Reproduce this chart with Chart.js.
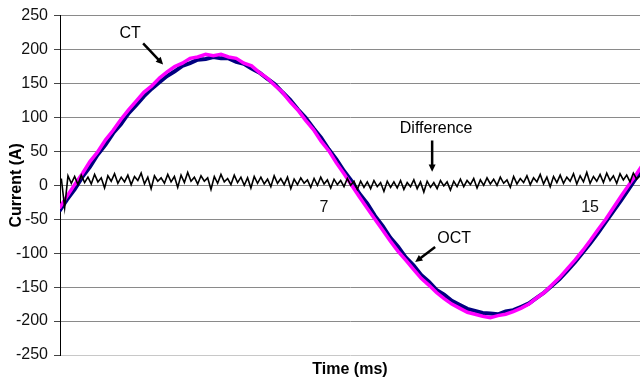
<!DOCTYPE html>
<html>
<head>
<meta charset="utf-8">
<script src="https://cdn.jsdelivr.net/npm/chart.js@4/dist/chart.umd.min.js"></script>
<style>
  html, body { margin: 0; padding: 0; background: #fff; }
  #wrap { width: 640px; height: 382px; }
</style>
</head>
<body>
<div id="wrap"><canvas id="chart" width="640" height="382"></canvas></div>
<script>
// sine traces, one sample every 5 degrees of a 60 Hz cycle (ms)
const sineTime = [-0.96, -0.73, -0.50, -0.27, -0.04, 0.19, 0.43, 0.66, 0.89, 1.12,
  1.35, 1.58, 1.81, 2.05, 2.28, 2.51, 2.74, 2.97, 3.20, 3.44,
  3.67, 3.90, 4.13, 4.36, 4.59, 4.82, 5.06, 5.29, 5.52, 5.75,
  5.98, 6.21, 6.44, 6.68, 6.91, 7.14, 7.37, 7.60, 7.83, 8.06,
  8.30, 8.53, 8.76, 8.99, 9.22, 9.45, 9.69, 9.92, 10.15, 10.38,
  10.61, 10.84, 11.07, 11.31, 11.54, 11.77, 12.00, 12.23, 12.46, 12.69,
  12.93, 13.16, 13.39, 13.62, 13.85, 14.08, 14.31, 14.55, 14.78, 15.01,
  15.24, 15.47, 15.70, 15.93, 16.17, 16.40, 16.63];

const ctCurrent = [-34, -16, 1, 17, 35, 49, 67, 81, 97, 111,
  124, 137, 146, 158, 167, 175, 180, 187, 189, 193,
  191, 193, 189, 187, 180, 176, 166, 158, 147, 137,
  123, 111, 96, 82, 65, 51, 33, 17, 0, -17,
  -34, -50, -66, -82, -97, -110, -124, -137, -147, -158,
  -167, -175, -181, -187, -190, -193, -195, -192, -190, -186,
  -181, -175, -166, -158, -147, -136, -123, -110, -96, -81,
  -65, -50, -33, -16, 1, 17, 34];

const octCurrent = [-38, -21, -6, 12, 27, 45, 60, 77, 90, 106,
  118, 131, 142, 152, 161, 168, 176, 180, 185, 186,
  189, 187, 187, 182, 179, 172, 166, 157, 149, 137,
  126, 112, 100, 84, 70, 53, 38, 21, 6, -12,
  -27, -45, -60, -77, -90, -106, -118, -132, -142, -154,
  -161, -170, -176, -182, -185, -188, -189, -190, -186, -184,
  -179, -174, -166, -158, -148, -138, -126, -113, -99, -85,
  -70, -54, -38, -22, -5, 12, 28];

// difference trace, one sample every 0.1 ms
const diffTime = [-0.9, -0.8, -0.7, -0.6, -0.5, -0.4, -0.3, -0.2, -0.1, 0,
  0.1, 0.2, 0.3, 0.4, 0.5, 0.6, 0.7, 0.8, 0.9, 1,
  1.1, 1.2, 1.3, 1.4, 1.5, 1.6, 1.7, 1.8, 1.9, 2,
  2.1, 2.2, 2.3, 2.4, 2.5, 2.6, 2.7, 2.8, 2.9, 3,
  3.1, 3.2, 3.3, 3.4, 3.5, 3.6, 3.7, 3.8, 3.9, 4,
  4.1, 4.2, 4.3, 4.4, 4.5, 4.6, 4.7, 4.8, 4.9, 5,
  5.1, 5.2, 5.3, 5.4, 5.5, 5.6, 5.7, 5.8, 5.9, 6,
  6.1, 6.2, 6.3, 6.4, 6.5, 6.6, 6.7, 6.8, 6.9, 7,
  7.1, 7.2, 7.3, 7.4, 7.5, 7.6, 7.7, 7.8, 7.9, 8,
  8.1, 8.2, 8.3, 8.4, 8.5, 8.6, 8.7, 8.8, 8.9, 9,
  9.1, 9.2, 9.3, 9.4, 9.5, 9.6, 9.7, 9.8, 9.9, 10,
  10.1, 10.2, 10.3, 10.4, 10.5, 10.6, 10.7, 10.8, 10.9, 11,
  11.1, 11.2, 11.3, 11.4, 11.5, 11.6, 11.7, 11.8, 11.9, 12,
  12.1, 12.2, 12.3, 12.4, 12.5, 12.6, 12.7, 12.8, 12.9, 13,
  13.1, 13.2, 13.3, 13.4, 13.5, 13.6, 13.7, 13.8, 13.9, 14,
  14.1, 14.2, 14.3, 14.4, 14.5, 14.6, 14.7, 14.8, 14.9, 15,
  15.1, 15.2, 15.3, 15.4, 15.5, 15.6, 15.7, 15.8, 15.9, 16,
  16.1, 16.2, 16.3, 16.4, 16.5];

const diffCurrent = [10, -33, 14, 3, 13, 1, 15, 4, 12, 2,
  16, 5, 11, -4, 14, 6, 17, 3, 12, 5,
  15, 1, 13, 7, 18, 2, 12, -5, 14, 6,
  11, 3, 16, 5, 13, -3, 15, 4, 19, 6,
  12, 2, 14, 6, 11, -6, 13, 3, 16, 5,
  10, 1, 15, 4, 12, 0, 11, -4, 13, 3,
  12, 2, 9, -2, 14, 3, 10, 1, 12, -5,
  9, 1, 11, 3, 8, -3, 10, 0, 12, 2,
  8, -4, 9, 1, 7, -2, 10, 0, 6, -6,
  6, -3, 5, -5, 7, -2, 4, -9, 6, -3,
  5, -4, 7, -6, 4, -2, 8, -5, 5, -10,
  6, -3, 4, -5, 7, -1, 5, -7, 6, -2,
  9, -2, 7, 1, 10, -4, 8, 0, 11, 2,
  9, 0, 12, 3, 8, -3, 13, 2, 10, 4,
  14, 1, 11, 5, 16, 2, 12, -2, 13, 4,
  15, 3, 12, 6, 17, 2, 14, 5, 19, 3,
  13, 6, 16, 4, 18, 7, 14, 3, 17, 8,
  15, 5, 18, 9, 14];

const xTickValues = [7, 15];
const xMin = -0.94, xMax = 16.5;
const yMin = -250, yMax = 250, yStep = 50;

const FONT = '"Liberation Sans", Arial, sans-serif';

// callouts, placed in data units
const notes = [
  { text: 'CT', at: [1.17, 223], from: [1.56, 209], to: [2.16, 178] },
  { text: 'Difference', at: [10.37, 84], from: [10.25, 66], to: [10.25, 20] },
  { text: 'OCT', at: [10.91, -78], from: [10.34, -91], to: [9.74, -113] }
];

const toPoints = (xs, ys) => ys.map((v, i) => ({ x: xs[i], y: v }));

function drawArrow(ctx, x1, y1, x2, y2) {
  const ang = Math.atan2(y2 - y1, x2 - x1);
  const head = 8;
  ctx.beginPath();
  ctx.moveTo(x1, y1);
  ctx.lineTo(x2 - Math.cos(ang) * head * 0.8, y2 - Math.sin(ang) * head * 0.8);
  ctx.lineWidth = 2.5;
  ctx.stroke();
  ctx.beginPath();
  ctx.moveTo(x2, y2);
  ctx.lineTo(x2 - head * Math.cos(ang - 0.45), y2 - head * Math.sin(ang - 0.45));
  ctx.lineTo(x2 - head * Math.cos(ang + 0.45), y2 - head * Math.sin(ang + 0.45));
  ctx.closePath();
  ctx.fill();
}

const notesPlugin = {
  id: 'notes',
  afterDatasetsDraw(chart) {
    const { ctx, chartArea, scales: { x, y } } = chart;
    ctx.save();
    ctx.fillStyle = '#000';
    ctx.strokeStyle = '#000';
    ctx.textAlign = 'center';
    ctx.textBaseline = 'middle';
    ctx.font = '16px ' + FONT;
    notes.forEach(n => {
      ctx.fillText(n.text, x.getPixelForValue(n.at[0]), y.getPixelForValue(n.at[1]));
      drawArrow(ctx,
        x.getPixelForValue(n.from[0]), y.getPixelForValue(n.from[1]),
        x.getPixelForValue(n.to[0]), y.getPixelForValue(n.to[1]));
    });
    // y axis title sits over the tick labels, as in the original
    ctx.translate(17, (chartArea.top + chartArea.bottom) / 2);
    ctx.rotate(-Math.PI / 2);
    ctx.font = 'bold 16px ' + FONT;
    ctx.fillText('Current (A)', 0, 0);
    ctx.restore();
  }
};

new Chart(document.getElementById('chart').getContext('2d'), {
  type: 'line',
  data: {
    datasets: [
      {
        label: 'Difference',
        data: toPoints(diffTime, diffCurrent),
        borderColor: '#000',
        borderWidth: 1.6,
        pointRadius: 0,
        tension: 0
      },
      {
        label: 'CT',
        data: toPoints(sineTime, ctCurrent),
        borderColor: '#ff00ff',
        borderWidth: 3.5,
        pointRadius: 0,
        tension: 0
      },
      {
        label: 'OCT',
        data: toPoints(sineTime, octCurrent),
        borderColor: '#000080',
        borderWidth: 4,
        pointRadius: 0,
        tension: 0
      }
    ]
  },
  options: {
    responsive: false,
    animation: false,
    devicePixelRatio: 1,
    layout: { padding: { top: 15, left: 0, right: 0, bottom: 0 } },
    plugins: {
      legend: { display: false },
      tooltip: { enabled: false }
    },
    scales: {
      x: {
        type: 'linear',
        min: xMin,
        max: xMax,
        position: { y: 0 },
        afterBuildTicks: s => { s.ticks = xTickValues.map(v => ({ value: v })); },
        grid: { display: false },
        border: { display: false },
        ticks: {
          font: { family: FONT, size: 16 },
          color: '#111',
          padding: 5,
          maxRotation: 0,
          autoSkip: false
        }
      },
      xTitle: {
        type: 'linear',
        axis: 'x',
        position: 'bottom',
        min: xMin,
        max: xMax,
        grid: { display: false },
        border: { display: false },
        ticks: { display: false },
        title: {
          display: true,
          text: 'Time (ms)',
          color: '#000',
          font: { family: FONT, size: 16, weight: 'bold' },
          padding: { top: 0, bottom: 3 }
        },
        afterFit: s => { s.height = 27; }
      },
      y: {
        min: yMin,
        max: yMax,
        ticks: {
          stepSize: yStep,
          font: { family: FONT, size: 16 },
          color: '#111',
          padding: 6
        },
        grid: {
          color: c => (c.tick && c.tick.value === yMin ? '#c8c8c8' : '#8a8a8a'),
          tickColor: '#444',
          tickLength: 6,
          lineWidth: 1
        },
        border: { color: '#000', width: 1 },
        afterFit: s => { s.width = 60; }
      }
    }
  },
  plugins: [notesPlugin]
});
</script>
</body>
</html>
